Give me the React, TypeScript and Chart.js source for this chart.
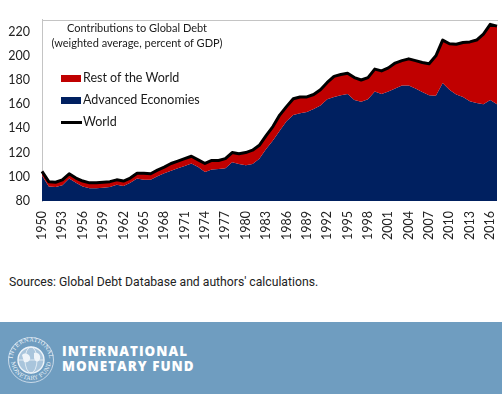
import React, { useEffect, useRef } from 'react';
import { Chart, registerables } from 'chart.js';

Chart.register(...registerables);

// ---- Data ----
const years = [
  '1950', '1951', '1952', '1953', '1954', '1955', '1956', '1957', '1958', '1959',
  '1960', '1961', '1962', '1963', '1964', '1965', '1966', '1967', '1968', '1969',
  '1970', '1971', '1972', '1973', '1974', '1975', '1976', '1977', '1978', '1979',
  '1980', '1981', '1982', '1983', '1984', '1985', '1986', '1987', '1988', '1989',
  '1990', '1991', '1992', '1993', '1994', '1995', '1996', '1997', '1998', '1999',
  '2000', '2001', '2002', '2003', '2004', '2005', '2006', '2007', '2008', '2009',
  '2010', '2011', '2012', '2013', '2014', '2015', '2016', '2017',
];

// World total (top of the stacked area, black line)
const world = [
  104.5, 96, 95.5, 97.5, 102.5, 99, 96.5, 95, 95, 95.5,
  96, 97.5, 96.5, 99, 103, 103, 102.5, 105.5, 108, 111,
  113, 115, 117, 114, 111, 113.5, 113.5, 115, 120, 119,
  120, 122, 126, 134, 141.5, 151, 158, 164.5, 166, 166,
  168, 172, 178, 183, 184.5, 185.5, 182, 180, 182, 189,
  187.5, 190, 194, 196, 197.5, 196, 194.5, 193.5, 200, 213,
  210, 209.5, 211, 211.5, 213, 218, 226, 224.5,
];

// Advanced Economies (blue area)
const advanced = [
  101, 92, 91.5, 93, 98.5, 95, 92, 90.5, 90.5, 91,
  91.5, 93.5, 92.5, 95, 98.5, 97.5, 97.5, 100.5, 103, 105,
  107, 109, 111, 108, 104, 106, 106.5, 107, 112, 110.5,
  109.5, 110.5, 115, 123, 130, 138, 146, 151, 152.5, 153.5,
  156, 159, 164, 166, 167.5, 168.5, 163.5, 162, 164, 170.5,
  168.5, 170.5, 173, 175.5, 175.5, 173, 170, 167.5, 167, 177.5,
  172, 168, 166, 162.5, 161, 160, 163.5, 160,
];

const yMin = 80;
const yMax = 230;
const yTickValues = [80, 100, 120, 140, 160, 180, 200, 220];
const labelEvery = 3;

const seriesNames = ['Rest of the World', 'Advanced Economies', 'World'];
const seriesColors = ['#c00000', '#002060', '#000000'];

const frameTop = {
  id: 'frameTop',
  afterDraw(chart: any) {
    const { ctx, chartArea } = chart;
    ctx.save();
    ctx.strokeStyle = '#c4c4c4';
    ctx.lineWidth = 1;
    ctx.beginPath();
    ctx.moveTo(chartArea.left, Math.round(chartArea.top) + 0.5);
    ctx.lineTo(chartArea.right + 1, Math.round(chartArea.top) + 0.5);
    ctx.stroke();
    ctx.restore();
  },
};

function DebtChart() {
  const ref = useRef<HTMLCanvasElement | null>(null);
  useEffect(() => {
    let chart: Chart | null = null;
    let cancelled = false;
    const make = () => {
      if (cancelled || !ref.current) return;
      chart = new Chart(ref.current, {
        type: 'line',
        data: {
          labels: years,
          datasets: [
            {
              label: seriesNames[1],
              data: advanced,
              backgroundColor: seriesColors[1],
              borderColor: 'rgba(0,0,0,0)',
              borderWidth: 0,
              fill: 'start',
              pointRadius: 0,
              order: 3,
            },
            {
              label: seriesNames[0],
              data: world,
              backgroundColor: seriesColors[0],
              borderColor: 'rgba(0,0,0,0)',
              borderWidth: 0,
              fill: 0,
              pointRadius: 0,
              order: 2,
            },
            {
              label: seriesNames[2],
              data: world,
              borderColor: seriesColors[2],
              borderWidth: 3,
              fill: false,
              pointRadius: 0,
              order: 1,
            },
          ],
        },
        options: {
          responsive: false,
          animation: false,
          devicePixelRatio: 1,
          layout: { padding: { top: 12, right: 5, left: 0, bottom: 0 } },
          elements: { line: { tension: 0, borderJoinStyle: 'round' } },
          plugins: {
            legend: { display: false },
            tooltip: { enabled: false },
            title: { display: false },
          },
          scales: {
            x: {
              type: 'category',
              offset: false,
              grid: { display: false, drawTicks: false },
              border: { display: false },
              ticks: {
                autoSkip: false,
                maxRotation: 90,
                minRotation: 90,
                padding: 10,
                color: '#222',
                font: { family: 'Lato', size: 12.5 },
                callback: (_v: any, i: number) => (i % labelEvery === 0 ? years[i] : ''),
              },
              afterFit: (s: any) => {
                s.height = 49;
                s.paddingLeft = 0;
                s.paddingRight = 0;
              },
            },
            y: {
              min: yMin,
              max: yMax,
              grid: { display: false, drawTicks: false },
              border: { display: true, color: '#c4c4c4', width: 1 },
              ticks: {
                padding: 12,
                color: '#222',
                font: { family: 'Lato', size: 12.5 },
              },
              afterBuildTicks: (s: any) => {
                s.ticks = yTickValues.map((v) => ({ value: v }));
              },
              afterFit: (s: any) => {
                s.width = 42;
              },
            },
          },
        } as any,
        plugins: [frameTop],
      });
    };
    const fontsReady = (document as any).fonts
      ? Promise.all([
          (document as any).fonts.load('12px Lato'),
          (document as any).fonts.load('12px Roboto'),
          (document as any).fonts.load('800 13px "Open Sans"'),
        ]).catch(() => null)
      : Promise.resolve(null);
    fontsReady.then(make);
    return () => {
      cancelled = true;
      if (chart) chart.destroy();
    };
  }, []);
  return (
    <canvas
      ref={ref}
      width={502}
      height={250}
      style={{ position: 'absolute', left: 0, top: 0, width: 502, height: 250 }}
    />
  );
}

const legendText: React.CSSProperties = {
  position: 'absolute',
  left: 83,
  fontFamily: 'Lato, sans-serif',
  fontSize: 12.5,
  lineHeight: '16px',
  color: '#1a1a1a',
  whiteSpace: 'nowrap',
};

export default function App() {
  return (
    <div
      style={{
        position: 'fixed',
        left: 0,
        top: 0,
        width: 502,
        height: 394,
        background: '#ffffff',
        overflow: 'hidden',
      }}
    >
      <DebtChart />
      {/* chart title */}
      <div
        style={{
          position: 'absolute',
          left: 44,
          top: 20,
          width: 186,
          textAlign: 'center',
          fontFamily: 'Lato, sans-serif',
          fontSize: 11,
          lineHeight: '15px',
          color: '#1a1a1a',
          whiteSpace: 'nowrap',
        }}
      >
        <div>Contributions to Global Debt</div>
        <div>(weighted average, percent of GDP)</div>
      </div>
      {/* legend */}
      <div style={{ position: 'absolute', left: 61, top: 75, width: 20, height: 7, background: seriesColors[0] }} />
      <div style={{ ...legendText, top: 70 }}>{seriesNames[0]}</div>
      <div style={{ position: 'absolute', left: 61, top: 97, width: 20, height: 7, background: seriesColors[1] }} />
      <div style={{ ...legendText, top: 92 }}>{seriesNames[1]}</div>
      <div style={{ position: 'absolute', left: 61, top: 120.5, width: 21, height: 3, background: seriesColors[2] }} />
      <div style={{ ...legendText, top: 114 }}>{seriesNames[2]}</div>

      {/* sources */}
      <div
        style={{
          position: 'absolute',
          left: 9,
          top: 275,
          fontFamily: 'Roboto, sans-serif',
          fontSize: 12.2,
          lineHeight: '14px',
          color: '#222',
          whiteSpace: 'nowrap',
        }}
      >
        Sources: Global Debt Database and authors' calculations.
      </div>

      {/* footer band */}
      <div
        style={{
          position: 'absolute',
          left: 0,
          top: 322,
          width: 502,
          height: 72,
          background: '#6f9dc0',
        }}
      >
        <svg
          width={48}
          height={48}
          viewBox="0 0 48 48"
          style={{ position: 'absolute', left: 7, top: 14 }}
        >
          <defs>
            <path id="imfArcTop" d="M 5.5,24 A 18.5,18.5 0 0 1 42.5,24" />
            <path id="imfArcBot" d="M 4,24 A 20,20 0 0 0 44,24" />
          </defs>
          <circle cx={24} cy={24} r={22.5} fill="none" stroke="#dfe9f2" strokeWidth={0.8} />
          <circle cx={24} cy={24} r={13} fill="#a9c5dc" stroke="#eef4f9" strokeWidth={1.4} />
          <ellipse cx={24} cy={24} rx={6} ry={13} fill="none" stroke="#eef4f9" strokeWidth={0.8} />
          <line x1={11} y1={24} x2={37} y2={24} stroke="#eef4f9" strokeWidth={0.8} />
          <path d="M 15,19 C 18,16 22,18 23,21 C 24,25 20,27 17,26 Z" fill="#eef4f9" />
          <path d="M 27,17 C 31,16 34,19 33,23 C 31,27 28,26 27,22 Z" fill="#eef4f9" />
          <text fontSize={5.6} fill="#eef4f9" fontFamily="DejaVu Serif, serif" letterSpacing={0.3}>
            <textPath href="#imfArcTop" startOffset="50%" textAnchor="middle">
              INTERNATIONAL
            </textPath>
          </text>
          <text fontSize={5.6} fill="#eef4f9" fontFamily="DejaVu Serif, serif" letterSpacing={0.3}>
            <textPath href="#imfArcBot" startOffset="50%" textAnchor="middle">
              MONETARY FUND
            </textPath>
          </text>
        </svg>
        <div
          style={{
            position: 'absolute',
            left: 62,
            top: 22,
            fontFamily: '"Open Sans", sans-serif',
            fontWeight: 800,
            fontSize: 13.4,
            lineHeight: '14.5px',
            letterSpacing: 1,
            color: '#ffffff',
            whiteSpace: 'nowrap',
          }}
        >
          <div>INTERNATIONAL</div>
          <div>MONETARY FUND</div>
        </div>
      </div>
    </div>
  );
}
